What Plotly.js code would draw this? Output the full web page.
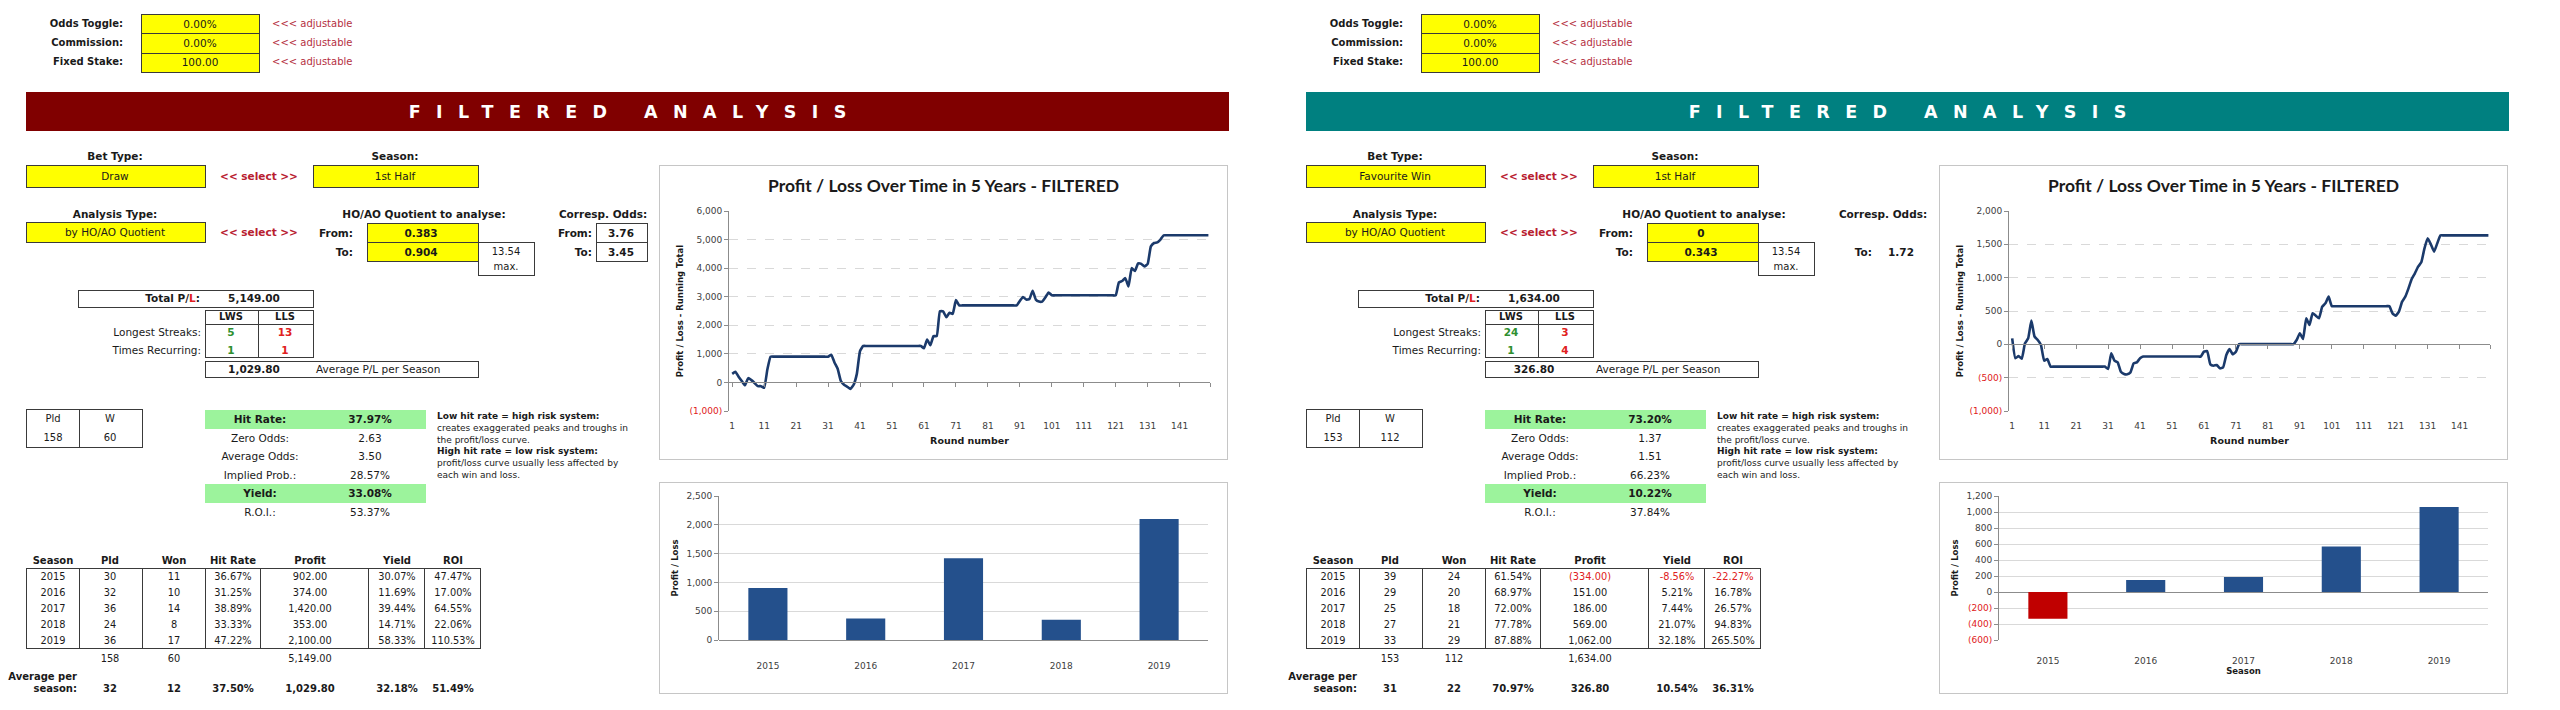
<!DOCTYPE html>
<html><head><meta charset="utf-8">
<script src="https://cdn.plot.ly/plotly-3.0.1.min.js"></script>
<style>
html,body{margin:0;padding:0;background:#fff;}
body{width:2560px;height:710px;overflow:hidden;position:relative;font-family:"DejaVu Sans",Verdana,sans-serif;color:#1a1a1a;}
.t{position:absolute;white-space:nowrap;font-size:10px;line-height:1;}
.b{position:absolute;box-sizing:border-box;}
.chart{position:absolute;box-sizing:border-box;border:1px solid #c6c6c6;background:#fff;}
</style></head><body>
<script>
// ---------------- DATA ----------------
const seasonLabels = ['2015','2016','2017','2018','2019'];
const roundTicks = [1,11,21,31,41,51,61,71,81,91,101,111,121,131,141];

// Left panel (Draw)
const drawSeasonProfit = [902, 374, 1420, 353, 2100];
const drawRunning = [
 300,370,200,50,-100,150,80,-20,-130,-130,-190,450,902,
 902,902,902,902,902,902,902,902,902,902,902,902,902,902,902,902,902,902,
 970,700,480,50,-80,-150,-230,-80,300,1100,1276,
 1276,1276,1276,1276,1276,1276,1276,1276,1276,1276,1276,1276,1276,1276,1276,1276,1276,1276,
 1200,1500,1300,1620,1620,2490,2490,2280,2440,2400,2880,2696,
 2696,2696,2696,2696,2696,2696,2696,2696,2696,2696,2696,2696,2696,2696,2696,2696,2696,2696,
 2850,2990,2900,2920,3210,2900,2830,2830,2980,3150,3049,
 3049,3049,3049,3049,3049,3049,3049,3049,3049,3049,3049,3049,3049,3049,3049,3049,3049,3049,3049,3049,
 3500,3550,3650,3360,4000,3900,4166,4150,4060,4150,4760,4880,4900,5000,5149,
 5149,5149,5149,5149,5149,5149,5149,5149,5149,5149,5149,5149,5149,5149
];
const drawLineTicks = [-1000,0,1000,2000,3000,4000,5000,6000];
const drawLineTickText = ['(1,000)','0','1,000','2,000','3,000','4,000','5,000','6,000'];
const drawBarTicks = [0,500,1000,1500,2000,2500];
const drawBarTickText = ['0','500','1,000','1,500','2,000','2,500'];

// Right panel (Favourite Win)
const favSeasonProfit = [-334, 151, 186, 569, 1062];
const favRunning = [
 90,-210,-175,-215,15,90,355,115,65,-10,-245,-220,-334,
 -334,-334,-334,-334,-334,-334,-334,-334,-334,-334,-334,-334,-334,-334,-334,-334,-334,
 -370,-135,-245,-270,-410,-445,-450,-420,-285,-270,-210,-183,
 -183,-183,-183,-183,-183,-183,-183,-183,-183,-183,-183,-183,-183,-183,-183,-183,-183,-183,
 -110,-100,-300,-320,-310,-360,-345,-160,-70,-150,-110,3,
 3,3,3,3,3,3,3,3,3,3,3,3,3,3,3,3,3,
 65,165,80,390,290,465,430,390,565,615,715,572,
 572,572,572,572,572,572,572,572,572,572,572,572,572,572,572,572,572,572,
 465,430,490,640,715,840,980,1065,1165,1230,1440,1590,1500,1390,1515,1634,
 1634,1634,1634,1634,1634,1634,1634,1634,1634,1634,1634,1634,1634,1634,1634
];
const favLineTicks = [-1000,-500,0,500,1000,1500,2000];
const favLineTickText = ['(1,000)','(500)','0','500','1,000','1,500','2,000'];
const favBarTicks = [-600,-400,-200,0,200,400,600,800,1000,1200];
const favBarTickText = ['(600)','(400)','(200)','0','200','400','600','800','1,000','1,200'];

// Spreadsheet texts
const inputLabels = ['Odds Toggle:','Commission:','Fixed Stake:'];
const inputValues = ['0.00%','0.00%','100.00'];
const statLabels = ['Hit Rate:','Zero Odds:','Average Odds:','Implied Prob.:','Yield:','R.O.I.:'];
const drawStats = ['37.97%','2.63','3.50','28.57%','33.08%','53.37%'];
const favStats  = ['73.20%','1.37','1.51','66.23%','10.22%','37.84%'];
const tableHeaders = ['Season','Pld','Won','Hit Rate','Profit','Yield','ROI'];
const drawTable = [
 ['2015','30','11','36.67%','902.00','30.07%','47.47%'],
 ['2016','32','10','31.25%','374.00','11.69%','17.00%'],
 ['2017','36','14','38.89%','1,420.00','39.44%','64.55%'],
 ['2018','24','8','33.33%','353.00','14.71%','22.06%'],
 ['2019','36','17','47.22%','2,100.00','58.33%','110.53%']
];
const drawTotals = ['158','60','5,149.00'];
const drawAverage = ['32','12','37.50%','1,029.80','32.18%','51.49%'];
const favTable = [
 ['2015','39','24','61.54%','(334.00)','-8.56%','-22.27%'],
 ['2016','29','20','68.97%','151.00','5.21%','16.78%'],
 ['2017','25','18','72.00%','186.00','7.44%','26.57%'],
 ['2018','27','21','77.78%','569.00','21.07%','94.83%'],
 ['2019','33','29','87.88%','1,062.00','32.18%','265.50%']
];
const favTotals = ['153','112','1,634.00'];
const favAverage = ['31','22','70.97%','326.80','10.54%','36.31%'];
const noteLines = ['<b>Low hit rate = high risk system:</b>','creates exaggerated peaks and troughs in','the profit/loss curve.','<b>High hit rate = low risk system:</b>','profit/loss curve usually less affected by','each win and loss.'];

const panels = [
 {dx:0, head:'#800000', bet:'Draw', season:'1st Half', analysis:'by HO/AO Quotient', qFrom:'0.383', qTo:'0.904', max:'13.54',
  oddsFrom:'3.76', oddsTo:'3.45', oddsBoxes:true, total:'5,149.00', lws:'5', lls:'13', recW:'1', recL:'1', avg:'1,029.80',
  pld:'158', w:'60', stats:drawStats, table:drawTable, totals:drawTotals, average:drawAverage,
  running:drawRunning, lineTicks:drawLineTicks, lineTickText:drawLineTickText,
  barVals:drawSeasonProfit, barTicks:drawBarTicks, barTickText:drawBarTickText, barTitle:false, barLabelGap:17},
 {dx:1280, head:'#008080', bet:'Favourite Win', season:'1st Half', analysis:'by HO/AO Quotient', qFrom:'0', qTo:'0.343', max:'13.54',
  oddsFrom:'', oddsTo:'1.72', oddsBoxes:false, total:'1,634.00', lws:'24', lls:'3', recW:'1', recL:'4', avg:'326.80',
  pld:'153', w:'112', stats:favStats, table:favTable, totals:favTotals, average:favAverage,
  running:favRunning, lineTicks:favLineTicks, lineTickText:favLineTickText,
  barVals:favSeasonProfit, barTicks:favBarTicks, barTickText:favBarTickText, barTitle:true, barLabelGap:12}
];

// ---------------- HELPERS ----------------
const YEL='#ffff00', BD='#3a3a3a', GRN='#9cf39c', SELRED='#b8202f', ADJRED='#b5303f', NUMG='#2f8f2f', NUMR='#e02020';
function T(x,y,s,o={}){const d=document.createElement('div');d.className='t';d.innerHTML=s;d.style.left=x+'px';d.style.top=y+'px';
 const tx=o.a==='c'?'-50%':o.a==='r'?'-100%':'0';d.style.transform='translate('+tx+',-50%)';
 if(o.b)d.style.fontWeight='bold';if(o.c)d.style.color=o.c;if(o.s)d.style.fontSize=o.s+'px';document.body.appendChild(d);return d;}
function B(x1,y1,x2,y2,fill,bc){const d=document.createElement('div');d.className='b';d.style.left=x1+'px';d.style.top=y1+'px';
 d.style.width=(x2-x1+1)+'px';d.style.height=(y2-y1+1)+'px';if(fill)d.style.background=fill;if(bc)d.style.border='1px solid '+bc;document.body.appendChild(d);return d;}
function neg(s){return (s.charAt(0)==='('||s.charAt(0)==='-')?NUMR:null;}
function redTicks(arr){return arr.map(s=>s.charAt(0)==='('?'<span style="color:#e02020">'+s+'</span>':s);}

function drawPanel(P){
 const dx=P.dx;
 // inputs
 const ry=[24,43,62];
 for(let i=0;i<3;i++){
  T(dx+123,ry[i],inputLabels[i],{a:'r',b:1,s:10});
  B(dx+141,[14,33,53][i],dx+259,[33,53,72][i],YEL,BD);
  T(dx+200,ry[i],inputValues[i],{a:'c',s:10.5});
  T(dx+272,ry[i],'&lt;&lt;&lt; adjustable',{c:ADJRED,s:10});
 }
 // header bar
 const h=B(dx+26,92,dx+1228,130,P.head,null);
 h.style.display='flex';h.style.alignItems='center';h.style.justifyContent='center';
 h.innerHTML='<span style="color:#fff;font-weight:bold;font-size:17.5px;letter-spacing:15.4px;padding-left:15.4px;white-space:pre;font-family:\'DejaVu Sans\'">FILTERED ANALYSIS</span>';
 // selectors
 T(dx+115,156,'Bet Type:',{a:'c',b:1,s:10.5});
 B(dx+26,165,dx+205,187,YEL,BD); T(dx+115,176,P.bet,{a:'c',s:10.5});
 T(dx+259,176,'&lt;&lt; select &gt;&gt;',{a:'c',b:1,c:SELRED,s:10.5});
 T(dx+395,156,'Season:',{a:'c',b:1,s:10.5});
 B(dx+313,165,dx+478,187,YEL,BD); T(dx+395,176,P.season,{a:'c',s:10.5});
 T(dx+115,214,'Analysis Type:',{a:'c',b:1,s:10.5});
 B(dx+26,222,dx+205,242,YEL,BD); T(dx+115,232,P.analysis,{a:'c',s:10.5});
 T(dx+259,232,'&lt;&lt; select &gt;&gt;',{a:'c',b:1,c:SELRED,s:10.5});
 T(dx+424,214,'HO/AO Quotient to analyse:',{a:'c',b:1,s:10.5});
 T(dx+353,233,'From:',{a:'r',b:1,s:10.5}); T(dx+353,252,'To:',{a:'r',b:1,s:10.5});
 B(dx+367,223,dx+478,242,YEL,BD); B(dx+367,242,dx+478,261,YEL,BD);
 T(dx+421,233,P.qFrom,{a:'c',b:1,s:10.5}); T(dx+421,252,P.qTo,{a:'c',b:1,s:10.5});
 B(dx+478,242,dx+534,275,null,BD); T(dx+506,252,P.max,{a:'c',s:10}); T(dx+506,267,'max.',{a:'c',s:10});
 T(dx+603,214,'Corresp. Odds:',{a:'c',b:1,s:10.5});
 if(P.oddsBoxes){
  T(dx+592,233,'From:',{a:'r',b:1,s:10.5});
  B(dx+596,223,dx+647,242,null,BD); B(dx+596,242,dx+647,261,null,BD);
  T(dx+621,233,P.oddsFrom,{a:'c',b:1,s:10.5});
 }
 T(dx+592,252,'To:',{a:'r',b:1,s:10.5});
 T(dx+621,252,P.oddsTo,{a:'c',b:1,s:10.5});
 // totals
 B(dx+78,290,dx+313,307,null,BD);
 T(dx+200,298,'Total P/<span style="color:#e02020">L</span>:',{a:'r',b:1,s:10.5});
 T(dx+254,298,P.total,{a:'c',b:1,s:10.5});
 B(dx+205,310,dx+258,357,null,BD); B(dx+258,310,dx+313,357,null,BD); B(dx+205,310,dx+313,324,null,BD);
 T(dx+231,317,'LWS',{a:'c',b:1,s:10}); T(dx+285,317,'LLS',{a:'c',b:1,s:10});
 T(dx+201,332,'Longest Streaks:',{a:'r',s:10.5}); T(dx+201,350,'Times Recurring:',{a:'r',s:10.5});
 T(dx+231,332,P.lws,{a:'c',b:1,c:NUMG,s:10.5}); T(dx+285,332,P.lls,{a:'c',b:1,c:NUMR,s:10.5});
 T(dx+231,350,P.recW,{a:'c',b:1,c:NUMG,s:10.5}); T(dx+285,350,P.recL,{a:'c',b:1,c:NUMR,s:10.5});
 B(dx+205,361,dx+478,377,null,BD);
 T(dx+254,369,P.avg,{a:'c',b:1,s:10.5}); T(dx+316,369,'Average P/L per Season',{s:10.5});
 // Pld / W
 B(dx+26,409,dx+79,447,null,BD); B(dx+79,409,dx+142,447,null,BD);
 T(dx+53,419,'Pld',{a:'c',s:10}); T(dx+110,419,'W',{a:'c',s:10});
 T(dx+53,438,P.pld,{a:'c',s:10}); T(dx+110,438,P.w,{a:'c',s:10});
 // stats
 B(dx+205,410,dx+425,428,GRN,null); B(dx+205,484,dx+425,502,GRN,null);
 const sy=[419,438,456,475,493,512];
 for(let i=0;i<6;i++){
  const bold=(i===0||i===4);
  T(dx+260,sy[i],statLabels[i],{a:'c',b:bold,s:10.5});
  T(dx+370,sy[i],P.stats[i],{a:'c',b:bold,s:10.5});
 }
 const ny=[416,428,440,451,463,475];
 for(let i=0;i<6;i++) T(dx+437,ny[i],noteLines[i],{s:9});
 // season table
 const cx=[53,110,174,233,310,397,453];
 for(let i=0;i<7;i++) T(dx+cx[i],561,tableHeaders[i],{a:'c',b:1,s:10});
 B(dx+26,568,dx+480,648,null,BD);
 const vx=[79,142,205,260,368,424];
 vx.forEach(v=>{B(dx+v,568,dx+v,648,null,null).style.background=BD;});
 const rowy=[577,593,609,625,641];
 P.table.forEach((r,ri)=>{ r.forEach((c,ci)=>{ T(dx+cx[ci],rowy[ri],c,{a:'c',s:9.8,c:ci>=4?neg(c):null}); }); });
 T(dx+cx[1],659,P.totals[0],{a:'c',s:9.8}); T(dx+cx[2],659,P.totals[1],{a:'c',s:9.8}); T(dx+cx[4],659,P.totals[2],{a:'c',s:9.8});
 T(dx+77,677,'Average per',{a:'r',b:1,s:10}); T(dx+77,689,'season:',{a:'r',b:1,s:10});
 P.average.forEach((c,ci)=>T(dx+cx[ci+1],689,c,{a:'c',b:1,s:10}));

 // ---------- charts ----------
 const lc=document.createElement('div');lc.className='chart';
 lc.style.left=(dx+659)+'px';lc.style.top='165px';lc.style.width='569px';lc.style.height='295px';
 document.body.appendChild(lc);
 const rounds=P.running.map((v,i)=>i+1);
 const yr=[P.lineTicks[0],P.lineTicks[P.lineTicks.length-1]];
 const xr=[0,150.5];
 const axFont={family:'DejaVu Sans',size:9,color:'#404040'};
 Plotly.newPlot(lc,[
  {x:rounds,y:P.running,type:'scatter',mode:'lines',line:{color:'#1b3a6b',width:2.6,shape:'spline',smoothing:0.4},hoverinfo:'skip'},
  {x:rounds,y:P.running,type:'scatter',mode:'lines',xaxis:'x2',line:{width:0},opacity:0,hoverinfo:'skip'}
 ],{
  width:567,height:293,margin:{l:69,r:17,t:45,b:48},paper_bgcolor:'#fff',plot_bgcolor:'#fff',showlegend:false,
  title:{text:'<b>Profit / Loss Over Time in 5 Years - FILTERED</b>',font:{family:'Lato',size:17.5,color:'#1a1a1a'},x:0.5,xanchor:'center',y:0.932,yanchor:'middle',yref:'container'},
  xaxis:{range:xr,tickvals:roundTicks,ticktext:roundTicks.map(String),showline:false,showgrid:false,zeroline:false,
         ticks:'outside',ticklen:6,tickcolor:'rgba(0,0,0,0)',tickfont:axFont,
         title:{text:'<b>Round number</b>',font:{family:'DejaVu Sans',size:9.5,color:'#1a1a1a'},standoff:7}},
  xaxis2:{overlaying:'x',anchor:'free',position:(0-yr[0])/(yr[1]-yr[0]),range:xr,tickvals:roundTicks.concat([150.5]),showticklabels:false,showgrid:false,zeroline:false,
         showline:true,linecolor:'#8c8c8c',linewidth:1,ticks:'outside',ticklen:4,tickcolor:'#8c8c8c'},
  yaxis:{range:yr,tickvals:P.lineTicks,ticktext:redTicks(P.lineTickText),showgrid:true,gridcolor:'#d9d9d9',griddash:'dash',gridwidth:1,zeroline:false,
         showline:true,linecolor:'#8c8c8c',ticks:'outside',ticklen:4,tickcolor:'#8c8c8c',tickfont:axFont,
         title:{text:'<b>Profit / Loss - Running Total</b>',font:{family:'DejaVu Sans',size:8.5,color:'#1a1a1a'},standoff:4}}
 },{staticPlot:true,displayModeBar:false});

 const bc=document.createElement('div');bc.className='chart';
 bc.style.left=(dx+659)+'px';bc.style.top='482px';bc.style.width='569px';bc.style.height='212px';
 document.body.appendChild(bc);
 const br=[P.barTicks[0],P.barTicks[P.barTicks.length-1]];
 Plotly.newPlot(bc,[{x:seasonLabels,y:P.barVals,type:'bar',marker:{color:P.barVals.map(v=>v<0?'#c00000':'#24508c')},hoverinfo:'skip'}],{
  width:567,height:210,margin:{l:59,r:19,t:13,b:53},paper_bgcolor:'#fff',plot_bgcolor:'#fff',bargap:0.6,showlegend:false,
  xaxis:{type:'category',showline:false,ticks:'outside',ticklen:P.barLabelGap,tickcolor:'rgba(0,0,0,0)',tickfont:axFont,showgrid:false,
         title:P.barTitle?{text:'<b>Season</b>',font:{family:'DejaVu Sans',size:8.5,color:'#1a1a1a'},standoff:1}:{text:''}},
  yaxis:{range:br,tickvals:P.barTicks,ticktext:redTicks(P.barTickText),showgrid:true,gridcolor:'#d9d9d9',gridwidth:1,
         zeroline:true,zerolinecolor:'#8c8c8c',zerolinewidth:1,showline:true,linecolor:'#8c8c8c',ticks:'outside',ticklen:4,tickcolor:'#8c8c8c',tickfont:axFont,
         title:{text:'<b>Profit / Loss</b>',font:{family:'DejaVu Sans',size:8.5,color:'#1a1a1a'},standoff:6}}
 },{staticPlot:true,displayModeBar:false});
}
panels.forEach(drawPanel);
</script>
</body></html>
